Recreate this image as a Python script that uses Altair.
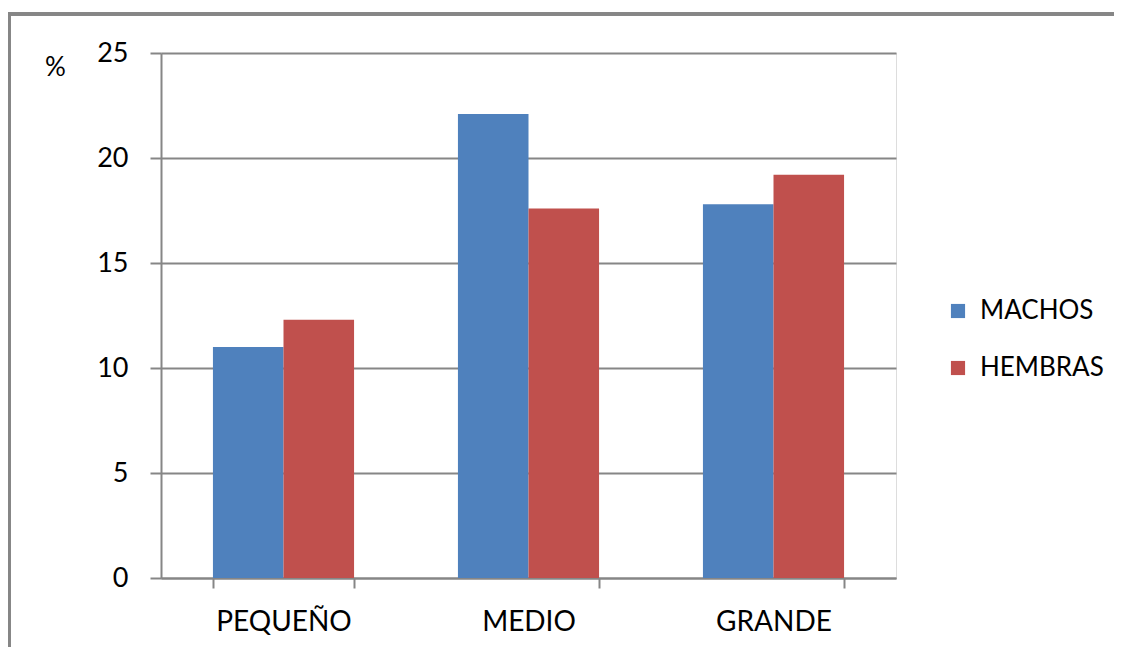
import altair as alt
import pandas as pd

categories = ["PEQUEÑO", "MEDIO", "GRANDE"]
series = ["MACHOS", "HEMBRAS"]
machos = [11.0, 22.1, 17.8]
hembras = [12.3, 17.6, 19.2]
colors = ["#4F81BD", "#C0504D"]

rows = []
for c, m, h in zip(categories, machos, hembras):
    rows.append({"cat": c, "serie": "MACHOS", "val": m})
    rows.append({"cat": c, "serie": "HEMBRAS", "val": h})
df = pd.DataFrame(rows)

FONT = "Lato"
GRAY = "#868686"
W, H = 735, 525

bars = alt.Chart(df).mark_bar().encode(
    x=alt.X("cat:N", sort=categories,
            scale=alt.Scale(paddingInner=0.424, paddingOuter=0.212),
            axis=alt.Axis(title=None, labelAngle=0, tickBand="extent",
                          tickSize=10, tickWidth=2, tickColor=GRAY,
                          domainColor=GRAY, domainWidth=2,
                          labelPadding=20, labelFontSize=28, labelFont=FONT,
                          labelColor="#000000", grid=False)),
    xOffset=alt.XOffset("serie:N", sort=series, scale=alt.Scale(paddingInner=0, paddingOuter=0)),
    y=alt.Y("val:Q", scale=alt.Scale(domain=[0, 25]),
            axis=alt.Axis(values=[0, 5, 10, 15, 20, 25], title="%",
                          titleAngle=0, titleX=-106, titleY=14, titleAlign="center",
                          titleBaseline="middle", titleFontSize=26, titleFont=FONT,
                          titleFontWeight="normal", titleColor="#000000",
                          tickSize=11, tickWidth=2, tickColor=GRAY,
                          domainColor=GRAY, domainWidth=2,
                          gridColor=GRAY, gridWidth=2, grid=True,
                          labelPadding=22, labelFontSize=27, labelFont=FONT,
                          labelColor="#000000")),
    color=alt.Color("serie:N", sort=series,
                    scale=alt.Scale(domain=series, range=colors),
                    legend=alt.Legend(title=None, orient="none", legendX=784, legendY=245,
                                      symbolType="square", symbolSize=200,
                                      symbolStrokeWidth=0, labelOffset=9,
                                      labelFontSize=26, labelFont=FONT,
                                      labelColor="#000000", rowPadding=31)),
)

frame_top = alt.Chart(df).mark_rule(stroke=GRAY, strokeWidth=3).encode(
    x=alt.value(-153.5), x2=alt.value(W + 400), y=alt.value(-39)
)
frame_left = alt.Chart(df).mark_rule(stroke=GRAY, strokeWidth=3).encode(
    x=alt.value(-152), y=alt.value(-40.5), y2=alt.value(H + 300)
)

chart = alt.layer(frame_top, frame_left, bars).properties(
    width=W, height=H,
    autosize=alt.AutoSizeParams(type="none"),
    padding={"left": 153, "top": 45, "right": 1106 - 153 - W, "bottom": 639 - 45 - H},
).configure_view(stroke=None).configure(background="white")

chart.save("out.html", embed_options={"renderer": "svg", "actions": False})
